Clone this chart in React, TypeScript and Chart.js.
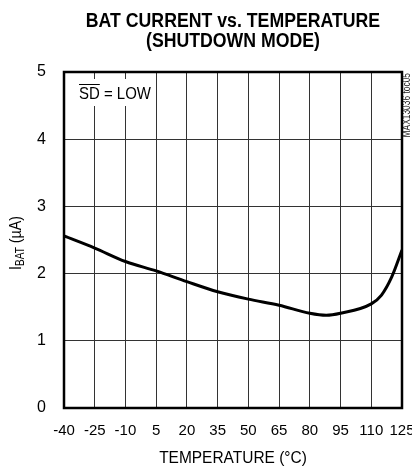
import React, { useEffect, useRef } from "react";
import { Chart, registerables } from "chart.js";

Chart.register(...registerables);

const temperatures = [-40, -25, -10, 5, 20, 35, 50, 65, 80, 88, 95, 110, 115, 120, 125];
const batCurrent = [2.56, 2.38, 2.18, 2.04, 1.88, 1.73, 1.62, 1.53, 1.41, 1.38, 1.41, 1.55, 1.68, 1.95, 2.35];
const xTicks = [-40, -25, -10, 5, 20, 35, 50, 65, 80, 95, 110, 125];
const yTicks = [0, 1, 2, 3, 4, 5];
const titleLines = ["BAT CURRENT vs. TEMPERATURE", "(SHUTDOWN MODE)"];
const xTitle = "TEMPERATURE (°C)";
const legendText = "SD = LOW";
const sideNote = "MAX13036 toc05";

const FONT = '"Liberation Sans", Arial, sans-serif';
const NARROW = 0.84;

function narrowText(ctx: any, text: string, x: number, y: number, font: string, align: string, sx: number) {
  ctx.save();
  ctx.font = font;
  ctx.translate(x, y);
  ctx.scale(sx, 1);
  ctx.textAlign = align;
  ctx.fillText(text, 0, 0);
  ctx.restore();
}

const decorPlugin = {
  id: "decor",
  afterDraw(chart: any) {
    const { ctx, chartArea } = chart;
    const { left, right, top, bottom } = chartArea;
    const cx = (left + right) / 2;
    ctx.save();
    ctx.fillStyle = "#000";
    ctx.textBaseline = "middle";
    // title
    narrowText(ctx, titleLines[0], cx, 21, `bold 20px ${FONT}`, "center", 0.885);
    narrowText(ctx, titleLines[1], cx, 41, `bold 20px ${FONT}`, "center", 0.885);
    // x title
    narrowText(ctx, xTitle, cx, 458, `17px ${FONT}`, "center", 0.91);
    // y title rotated with subscript
    ctx.save();
    ctx.translate(21, (top + bottom) / 2 + 3);
    ctx.rotate(-Math.PI / 2);
    ctx.scale(NARROW, 1);
    ctx.textBaseline = "alphabetic";
    ctx.textAlign = "left";
    const mainFont = `17px ${FONT}`;
    const subFont = `12px ${FONT}`;
    ctx.font = mainFont;
    const wI = ctx.measureText("I").width;
    const wRest = ctx.measureText(" (µA)").width;
    ctx.font = subFont;
    const wSub = ctx.measureText("BAT").width;
    const total = wI + wSub + wRest;
    let x0 = -total / 2;
    ctx.font = mainFont;
    ctx.fillText("I", x0, 0);
    x0 += wI;
    ctx.font = subFont;
    ctx.fillText("BAT", x0, 3);
    x0 += wSub;
    ctx.font = mainFont;
    ctx.fillText(" (µA)", x0, 0);
    ctx.restore();
    // side note
    ctx.save();
    ctx.translate(407, top + 1);
    ctx.rotate(-Math.PI / 2);
    ctx.scale(NARROW, 1);
    ctx.textAlign = "right";
    ctx.textBaseline = "middle";
    ctx.font = `10px ${FONT}`;
    ctx.fillStyle = "#222";
    ctx.fillText(sideNote, 0, 0);
    ctx.restore();
    // legend box
    ctx.fillStyle = "#fff";
    ctx.fillRect(left + 2, top + 7, 89, 27);
    ctx.fillStyle = "#000";
    const lx = left + 15;
    const ly = top + 22;
    const lf = `17px ${FONT}`;
    const ls = 0.88;
    narrowText(ctx, legendText, lx, ly, lf, "left", ls);
    ctx.font = lf;
    const wSD = ctx.measureText("SD").width * ls;
    ctx.strokeStyle = "#000";
    ctx.lineWidth = 1;
    ctx.beginPath();
    ctx.moveTo(lx, ly - 9.5);
    ctx.lineTo(lx + wSD, ly - 9.5);
    ctx.stroke();
    // border
    ctx.lineWidth = 2.5;
    ctx.strokeRect(left, top, right - left, bottom - top);
    ctx.restore();
  },
};

export default function App() {
  const ref = useRef<HTMLCanvasElement>(null);
  useEffect(() => {
    if (!ref.current) return;
    const chart = new Chart(ref.current, {
      type: "line",
      data: {
        datasets: [
          {
            data: temperatures.map((t, i) => ({ x: t, y: batCurrent[i] })),
            borderColor: "#000",
            borderWidth: 3,
            pointRadius: 0,
            fill: false,
            cubicInterpolationMode: "monotone",
          },
        ],
      },
      options: {
        animation: false,
        responsive: false,
        devicePixelRatio: 1,
        layout: { padding: { top: 72, right: 10, bottom: 0, left: 0 } },
        plugins: { legend: { display: false }, tooltip: { enabled: false }, title: { display: false } },
        scales: {
          x: {
            type: "linear",
            min: -40,
            max: 125,
            afterBuildTicks: (scale: any) => {
              scale.ticks = xTicks.map((v) => ({ value: v }));
            },
            afterFit: (scale: any) => {
              scale.height = 60;
              scale.paddingLeft = 0;
              scale.paddingRight = 0;
            },
            ticks: {
              color: "#000",
              font: { family: FONT, size: 15 },
              padding: 14,
              maxRotation: 0,
              autoSkip: false,
            },
            grid: { color: "#333", lineWidth: 1, drawTicks: false },
            border: { display: false },
          },
          y: {
            type: "linear",
            min: 0,
            max: 5,
            afterBuildTicks: (scale: any) => {
              scale.ticks = yTicks.map((v) => ({ value: v }));
            },
            afterFit: (scale: any) => {
              scale.width = 64;
              scale.paddingTop = 0;
              scale.paddingBottom = 0;
            },
            ticks: {
              color: "#000",
              font: { family: FONT, size: 16 },
              padding: 18,
            },
            grid: { color: "#333", lineWidth: 1, drawTicks: false },
            border: { display: false },
          },
        },
      },
      plugins: [decorPlugin],
    } as any);
    return () => chart.destroy();
  }, []);
  return (
    <div style={{ position: "fixed", left: 0, top: 0, width: 412, height: 468, background: "#fff" }}>
      <canvas ref={ref} width={412} height={468} style={{ width: 412, height: 468 }} />
    </div>
  );
}
